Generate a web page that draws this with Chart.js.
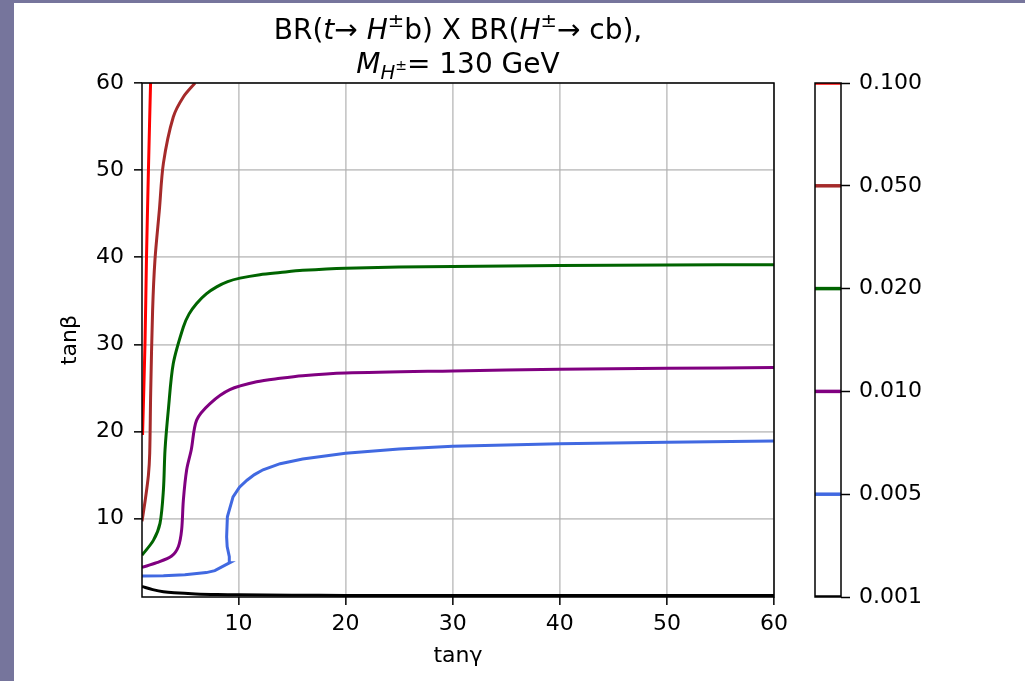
<!DOCTYPE html>
<html>
<head>
<meta charset="utf-8">
<script src="https://cdn.jsdelivr.net/npm/chart.js@4.4.1/dist/chart.umd.min.js"></script>
<style>
  html, body { margin: 0; padding: 0; background: #76759c; width: 1025px; height: 681px; overflow: hidden; }
  #page { position: absolute; left: 14px; top: 3px; width: 1011px; height: 678px; background: #ffffff; }
  canvas { position: absolute; top: 0; }
</style>
</head>
<body>
<div id="page"></div>
<canvas id="main" width="800" height="681" style="left:0px;width:800px;height:681px"></canvas>
<canvas id="cbar" width="225" height="681" style="left:800px;width:225px;height:681px"></canvas>
<script>
// ---------------- data ----------------
const levelLabels = ['0.001', '0.005', '0.010', '0.020', '0.050', '0.100'];
const levelColors = ['#000000', '#4169e1', '#800080', '#006400', '#a52a2a', '#ff0000'];
const axisTicks = [10, 20, 30, 40, 50, 60];

const c0001X = [1, 2, 3, 4, 6, 8, 10, 15, 20, 30, 40, 50, 60];
const c0001Y = [2.2, 1.85, 1.6, 1.48, 1.35, 1.28, 1.25, 1.2, 1.18, 1.17, 1.16, 1.16, 1.16];

const c0005X = [1, 3, 5, 7, 7.8, 9.2, 9.15, 8.95, 8.9, 8.97, 9.5, 10.1, 10.8, 11.5, 12.3, 13.9, 16, 20, 25, 30, 40, 50, 60];
const c0005Y = [3.41, 3.45, 3.55, 3.8, 4.02, 4.94, 5.63, 6.8, 7.9, 10.2, 12.5, 13.6, 14.4, 15.05, 15.6, 16.3, 16.85, 17.5, 18.0, 18.3, 18.6, 18.75, 18.9];

const c0010X = [1, 2.37, 3.77, 4.4, 4.7, 4.86, 5.17, 5.6, 6.1, 7.35, 9.2, 11.7, 13.9, 16, 20, 30, 40, 50, 60];
const c0010Y = [4.4, 4.94, 5.7, 6.8, 8.7, 12.1, 15.6, 17.9, 21.3, 23.2, 24.8, 25.7, 26.1, 26.4, 26.7, 26.95, 27.15, 27.25, 27.35];

const c0020X = [1, 2.06, 2.68, 3.0, 3.15, 3.46, 3.92, 4.86, 5.4, 6.1, 7.0, 7.97, 9.0, 10.15, 12.0, 13.9, 16, 20, 30, 40, 50, 60];
const c0020Y = [5.8, 7.5, 9.45, 13.3, 17.9, 22.5, 27.8, 32.0, 33.5, 34.7, 35.8, 36.6, 37.2, 37.6, 38.0, 38.25, 38.5, 38.75, 38.95, 39.05, 39.1, 39.15];

const c0050X = [1.0, 1.3, 1.6, 1.72, 1.81, 1.99, 2.21, 2.62, 3.0, 3.92, 4.86, 5.95];
const c0050Y = [9.7, 12.1, 15.0, 17.5, 24.4, 33.9, 39.7, 45.4, 50.8, 56.1, 58.4, 60];

const c0100X = [1.05, 1.28, 1.42, 1.6, 1.8];
const c0100Y = [19.6, 30.1, 40, 50, 60];

const curvesX = [c0001X, c0005X, c0010X, c0020X, c0050X, c0100X];
const curvesY = [c0001Y, c0005Y, c0010Y, c0020Y, c0050Y, c0100Y];

// title runs: text, italic, size scale, vertical shift (em, negative = up)
const titleLine1 = [
  {t: 'BR(', i: false, s: 1, dy: 0},
  {t: 't', i: true, s: 1, dy: 0},
  {t: '\u2192 ', i: false, s: 1, dy: 0},
  {t: 'H', i: true, s: 1, dy: 0},
  {t: '\u00b1', i: false, s: 0.7, dy: -0.42},
  {t: 'b) X BR(', i: false, s: 1, dy: 0},
  {t: 'H', i: true, s: 1, dy: 0},
  {t: '\u00b1', i: false, s: 0.7, dy: -0.42},
  {t: '\u2192 cb),', i: false, s: 1, dy: 0}
];
const titleLine2 = [
  {t: 'M', i: true, s: 1, dy: 0},
  {t: 'H', i: true, s: 0.7, dy: 0.22},
  {t: '\u00b1', i: false, s: 0.5, dy: -0.12},
  {t: '= 130 GeV', i: false, s: 1, dy: 0}
];

// ---------------- rendering ----------------
Chart.defaults.font.family = 'DejaVu Sans';
Chart.defaults.color = '#000000';

const FONT = 'DejaVu Sans';
const TITLE_SIZE = 28;

function drawRuns(ctx, runs, cx, baseline, size) {
  ctx.save();
  ctx.textBaseline = 'alphabetic';
  ctx.textAlign = 'left';
  ctx.fillStyle = '#000';
  let total = 0;
  const widths = runs.map(r => {
    ctx.font = (r.i ? 'italic ' : '') + (size * r.s) + 'px "' + FONT + '"';
    const w = ctx.measureText(r.t).width;
    total += w;
    return w;
  });
  let x = cx - total / 2;
  runs.forEach((r, k) => {
    ctx.font = (r.i ? 'italic ' : '') + (size * r.s) + 'px "' + FONT + '"';
    ctx.fillText(r.t, x, baseline + r.dy * size);
    x += widths[k];
  });
  ctx.restore();
}

const framePlugin = {
  id: 'frame',
  afterDatasetsDraw(chart) {
    const a = chart.chartArea;
    const ctx = chart.ctx;
    ctx.save();
    ctx.strokeStyle = '#000';
    ctx.lineWidth = 1.5;
    ctx.strokeRect(a.left, a.top, a.right - a.left, a.bottom - a.top);
    ctx.restore();
  }
};

const titlePlugin = {
  id: 'mathTitle',
  afterDraw(chart) {
    const a = chart.chartArea;
    const cx = (a.left + a.right) / 2;
    drawRuns(chart.ctx, titleLine1, cx, 39, TITLE_SIZE);
    drawRuns(chart.ctx, titleLine2, cx, 73, TITLE_SIZE);
  }
};

const datasets = curvesX.map((xs, k) => ({
  label: levelLabels[k],
  data: xs.map((x, j) => ({x: x, y: curvesY[k][j]})),
  borderColor: levelColors[k],
  backgroundColor: levelColors[k],
  borderWidth: 3,
  pointRadius: 0,
  tension: k === 1 ? 0 : 0.3,
  fill: false,
  clip: 0
}));

const fixedTicks = scale => { scale.ticks = axisTicks.map(v => ({value: v})); };

new Chart(document.getElementById('main'), {
  type: 'line',
  data: {datasets: datasets},
  options: {
    responsive: false,
    animation: false,
    devicePixelRatio: 1,
    layout: {padding: {top: 83, right: 26, bottom: 0, left: 0}},
    plugins: {legend: {display: false}, tooltip: {enabled: false}, title: {display: false}},
    scales: {
      x: {
        type: 'linear', min: 1, max: 60,
        afterBuildTicks: fixedTicks,
        afterFit: s => { s.height = 84; },
        border: {display: false},
        grid: {color: 'rgba(176,176,176,0.7)', lineWidth: 1.7, tickColor: '#000', tickLength: 8, tickWidth: 1.5},
        ticks: {font: {size: 22}, padding: 6, maxRotation: 0, callback: v => String(v)},
        title: {display: true, text: 'tan\u03b3', font: {size: 22}, padding: {top: 0, bottom: 12}}
      },
      y: {
        type: 'linear', min: 1, max: 60,
        afterBuildTicks: fixedTicks,
        afterFit: s => { s.width = 142; },
        border: {display: false},
        grid: {color: 'rgba(176,176,176,0.7)', lineWidth: 1.7, tickColor: '#000', tickLength: 8, tickWidth: 1.5},
        ticks: {font: {size: 22}, padding: 10, callback: v => String(v)},
        title: {display: true, text: 'tan\u03b2', font: {size: 22}, padding: {top: 57, bottom: 0}}
      }
    }
  },
  plugins: [framePlugin, titlePlugin]
});

const cbarSets = levelLabels.map((lab, k) => ({
  label: lab,
  data: [{x: 0, y: k}, {x: 1, y: k}],
  borderColor: levelColors[k],
  borderWidth: 3.5,
  pointRadius: 0,
  clip: 0
}));

new Chart(document.getElementById('cbar'), {
  type: 'line',
  data: {datasets: cbarSets},
  options: {
    responsive: false,
    animation: false,
    devicePixelRatio: 1,
    layout: {padding: {top: 83, right: 0, bottom: 84, left: 15}},
    plugins: {legend: {display: false}, tooltip: {enabled: false}},
    scales: {
      x: {type: 'linear', min: 0, max: 1, display: false},
      y: {
        type: 'linear', position: 'right', min: 0, max: levelLabels.length - 1,
        afterFit: s => { s.width = 184; },
        border: {display: false},
        grid: {drawOnChartArea: false, tickColor: '#000', tickLength: 9, tickWidth: 1.5},
        ticks: {stepSize: 1, font: {size: 22}, padding: 9, callback: v => levelLabels[v]}
      }
    }
  },
  plugins: [framePlugin]
});
</script>
</body>
</html>
